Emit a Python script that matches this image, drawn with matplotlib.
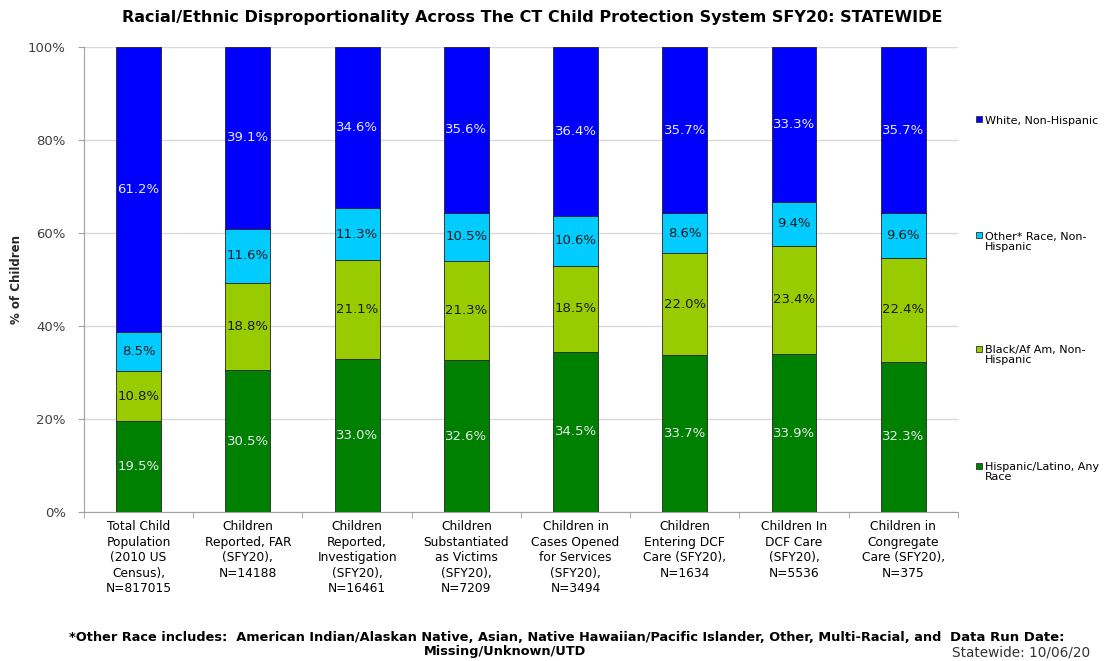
import matplotlib.pyplot as plt
from matplotlib.patches import Rectangle
import numpy as np

plt.rcParams['font.family'] = ['DejaVu Sans']

categories = [
    "Total Child\nPopulation\n(2010 US\nCensus),\nN=817015",
    "Children\nReported, FAR\n(SFY20),\nN=14188",
    "Children\nReported,\nInvestigation\n(SFY20),\nN=16461",
    "Children\nSubstantiated\nas Victims\n(SFY20),\nN=7209",
    "Children in\nCases Opened\nfor Services\n(SFY20),\nN=3494",
    "Children\nEntering DCF\nCare (SFY20),\nN=1634",
    "Children In\nDCF Care\n(SFY20),\nN=5536",
    "Children in\nCongregate\nCare (SFY20),\nN=375",
]

# stacked bottom -> top
hispanic = [19.5, 30.5, 33.0, 32.6, 34.5, 33.7, 33.9, 32.3]
black = [10.8, 18.8, 21.1, 21.3, 18.5, 22.0, 23.4, 22.4]
other = [8.5, 11.6, 11.3, 10.5, 10.6, 8.6, 9.4, 9.6]
white = [61.2, 39.1, 34.6, 35.6, 36.4, 35.7, 33.3, 35.7]

series = [
    ("Hispanic/Latino, Any\nRace", hispanic, "#008000", "#E8E8F0"),
    ("Black/Af Am, Non-\nHispanic", black, "#99CC00", "#1A1A1A"),
    ("Other* Race, Non-\nHispanic", other, "#00CCFF", "#1A1A1A"),
    ("White, Non-Hispanic", white, "#0000FF", "#E8E8F8"),
]

fig = plt.figure(figsize=(11.08, 6.61), dpi=100)
ax = fig.add_axes([0.0758, 0.2254, 0.7888, 0.7035])

x = np.arange(len(categories))
bottom = np.zeros(len(categories))
for name, vals, col, tcol in series:
    vals = np.array(vals)
    ax.bar(x, vals, 0.41, bottom=bottom, color=col, edgecolor="#222222",
           linewidth=0.6, zorder=3)
    for xi, b, v in zip(x, bottom, vals):
        ax.text(xi, b + v / 2, f"{v:.1f}%", ha="center", va="center",
                fontsize=9.5, color=tcol, zorder=4)
    bottom += vals

ax.set_xlim(-0.5, len(categories) - 0.5)
ax.set_ylim(0, 100)
ax.set_yticks(np.arange(0, 101, 20))
ax.set_yticklabels([f"{v}%" for v in range(0, 101, 20)], fontsize=9.5,
                   color="#404040")
ax.yaxis.grid(True, color="#D9D9D9", linewidth=1, zorder=0)
ax.set_xticks(x)
ax.set_xticklabels(categories, fontsize=8.8, linespacing=1.25)
ax.set_xticks(np.arange(-0.5, len(categories)), minor=True)
ax.tick_params(axis="x", which="major", length=0, pad=6)
ax.tick_params(axis="x", which="minor", length=4, color="#A0A0A0")
ax.tick_params(axis="y", length=4, color="#A0A0A0", pad=9)
for s in ["top", "right"]:
    ax.spines[s].set_visible(False)
for s in ["left", "bottom"]:
    ax.spines[s].set_color("#A0A0A0")
ax.set_ylabel("% of Children", fontsize=8.5, fontweight="bold",
              color="#262626", labelpad=4)

fig.text(0.480, 0.974, "Racial/Ethnic Disproportionality Across The CT Child Protection System SFY20: STATEWIDE",
         ha="center", va="center", fontsize=11.5, fontweight="bold")

# legend, spread along the right side
leg_y = [0.82, 0.645, 0.473, 0.296]
for (name, vals, col, tcol), yy in zip(series[::-1], leg_y):
    fig.patches.append(Rectangle((0.8805, yy - 0.005), 0.0055, 0.0092,
                                 transform=fig.transFigure, facecolor=col,
                                 edgecolor="#333333", linewidth=0.6))
    fig.text(0.889, yy + 0.0045, name, ha="left", va="top", fontsize=8,
             linespacing=1.0)

fig.text(0.456, 0.025, "*Other Race includes:  American Indian/Alaskan Native, Asian, Native Hawaiian/Pacific Islander, Other, Multi-Racial, and\nMissing/Unknown/UTD",
         ha="center", va="center", fontsize=9.3, fontweight="bold", linespacing=1.05)
fig.text(0.857, 0.036, "Data Run Date:", ha="left", va="center", fontsize=9.5, fontweight="bold")
fig.text(0.984, 0.0136, "Statewide: 10/06/20", ha="right", va="center", fontsize=9.8,
         color="#333333")

fig.savefig("out.png", dpi=100)
